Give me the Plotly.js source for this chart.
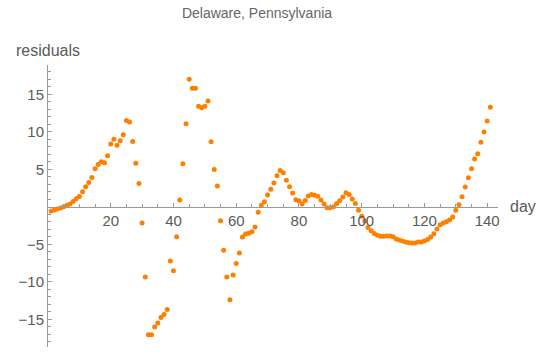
<!DOCTYPE html>
<html>
<head>
<meta charset="utf-8">
<script src="https://cdn.plot.ly/plotly-3.0.1.min.js"></script>
<style>
html, body { margin: 0; padding: 0; background: #fff; }
#chart { width: 546px; height: 354px; }
</style>
</head>
<body>
<div id="chart"></div>
<script>
// Residuals per day (day 1 .. 141)
const residuals = [
  -0.57, -0.44, -0.30, -0.15, 0.00, 0.20, 0.36, 0.70, 1.07, 1.38,
   2.00, 2.67, 3.25, 3.90, 5.07, 5.65, 6.00, 5.87, 6.80, 8.36,
   9.00, 8.20, 8.80, 9.60, 11.50, 11.30, 8.70, 5.80, 3.10, -2.17,
  -9.37, -17.07, -17.07, -16.04, -15.50, -14.75, -14.35, -13.70, -7.24, -8.53,
  -4.00, 0.90, 5.74, 11.07, 17.00, 15.80, 15.80, 13.40, 13.20, 13.40,
  14.10, 8.67, 4.98, 2.76, -1.87, -5.81, -9.37, -12.40, -9.10, -7.55,
  -6.17, -4.04, -3.64, -3.52, -3.33, -2.70, -0.72, 0.19, 0.67, 1.56,
   2.32, 3.16, 4.13, 4.85, 4.53, 3.52, 2.67, 1.83, 0.93, 0.80,
   0.36, 0.85, 1.43, 1.65, 1.52, 1.39, 0.89, 0.36, -0.13, -0.13,
   0.00, 0.40, 0.80, 1.29, 1.87, 1.65, 1.03, 0.45, -0.46, -1.25,
  -1.90, -2.75, -3.20, -3.55, -3.80, -3.92, -3.92, -3.90, -3.90, -4.00,
  -4.30, -4.44, -4.57, -4.70, -4.80, -4.84, -4.84, -4.70, -4.70, -4.57,
  -4.35, -4.04, -3.60, -2.97, -2.40, -2.17, -2.00, -1.77, -1.37, -0.48,
   0.27, 1.33, 2.63, 3.87, 5.07, 6.36, 7.07, 8.59, 9.96, 11.43,
  13.25
];
const days = residuals.map((_, i) => i + 1);

const xTickVals = [20, 40, 60, 80, 100, 120, 140];
const yTickVals = [-15, -10, -5, 5, 10, 15];
const chartTitle = "Delaware, Pennsylvania";
const xLabel = "day";
const yLabel = "residuals";

const xRange = [0, 143.45];
const yRange = [-18.7, 18.9];

const xMinor = [];
for (let v = 5; v <= 143; v += 5) if (v % 20 !== 0) xMinor.push(v);
const yMinor = [];
for (let v = -18; v <= 18; v++) if (v % 5 !== 0) yMinor.push(v);

const axisColor = "#9a9a9a";
const labelColor = "#5a5a5a";
const fontFamily = "'Liberation Sans', Arial, sans-serif";

const trace = {
  x: days,
  y: residuals,
  type: "scatter",
  mode: "markers",
  marker: { color: "#ff8000", size: 5 },
  hoverinfo: "skip"
};

const zeroPos = (0 - yRange[0]) / (yRange[1] - yRange[0]);

const layout = {
  width: 546,
  height: 354,
  margin: { l: 48, r: 48, t: 65, b: 7, pad: 0 },
  paper_bgcolor: "#ffffff",
  plot_bgcolor: "#ffffff",
  showlegend: false,
  font: { family: fontFamily, color: labelColor, size: 15 },
  title: {
    text: chartTitle,
    font: { family: fontFamily, size: 14, color: "#666666" },
    xref: "container", x: 257 / 546, xanchor: "center",
    yref: "container", y: 1 - 13 / 354, yanchor: "middle"
  },
  xaxis: {
    range: xRange,
    anchor: "free",
    position: zeroPos,
    showgrid: false,
    zeroline: false,
    showline: true,
    linecolor: axisColor,
    linewidth: 1,
    tickmode: "array",
    tickvals: xTickVals,
    ticktext: xTickVals.map(String),
    ticks: "inside",
    ticklen: 4,
    tickcolor: axisColor,
    tickfont: { family: fontFamily, size: 15, color: labelColor },
    minor: { tickmode: "array", tickvals: xMinor, ticks: "inside", ticklen: 2.5, tickcolor: axisColor, showgrid: false }
  },
  yaxis: {
    range: yRange,
    showgrid: false,
    zeroline: false,
    showline: true,
    linecolor: axisColor,
    linewidth: 1,
    tickmode: "array",
    tickvals: yTickVals,
    ticks: "inside",
    ticklen: 4,
    tickcolor: axisColor,
    tickfont: { family: fontFamily, size: 15, color: labelColor },
    minor: { tickmode: "array", tickvals: yMinor, ticks: "inside", ticklen: 2.5, tickcolor: axisColor, showgrid: false }
  },
  annotations: [
    {
      text: yLabel, showarrow: false,
      xref: "paper", x: (14 - 48) / 450, xanchor: "left",
      yref: "paper", y: (347 - 50) / 282, yanchor: "middle",
      font: { family: fontFamily, size: 16, color: labelColor }
    },
    {
      text: xLabel, showarrow: false,
      xref: "paper", x: (508 - 48) / 450, xanchor: "left",
      yref: "y", y: 0, yanchor: "middle",
      font: { family: fontFamily, size: 16, color: labelColor }
    }
  ]
};

Plotly.newPlot("chart", [trace], layout, { displayModeBar: false, staticPlot: true });
</script>
</body>
</html>
